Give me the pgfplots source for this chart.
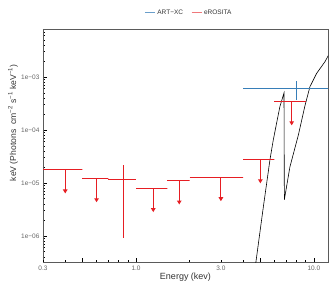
\documentclass[border=0pt]{standalone}
\usepackage{fontspec}
\setmainfont{Liberation Sans}
\usepackage{pgfplots}
\pgfplotsset{compat=1.18}
\usetikzlibrary{arrows.meta}
\definecolor{artblue}{RGB}{55,126,184}
\definecolor{erored}{RGB}{230,30,35}
\definecolor{framegray}{RGB}{90,90,90}
\begin{document}
\begin{tikzpicture}
\useasboundingbox (-43pt,-25pt) rectangle (289pt,262pt);
\begin{axis}[
  scale only axis, width=285pt, height=233pt,
  at={(0pt,0pt)}, anchor=south west,
  xmode=log, ymode=log,
  xmin=0.3, xmax=12, ymin=3.2e-7, ymax=8.05e-3,
  axis line style={framegray, line width=0.5pt},
  xtick={0.5,1,5,10}, xticklabels={,1.0,,10.0},
  extra x ticks={0.3,3}, extra x tick labels={0.3,3.0},
  extra x tick style={major tick length=2pt},
  minor xtick={0.4,0.6,0.7,0.8,0.9,2,4,6,7,8,9},
  ytick={1e-6,1e-5,1e-4,1e-3}, yticklabels={1e−06,1e−05,1e−04,1e−03},
  minor ytick={4e-7,5e-7,6e-7,7e-7,8e-7,9e-7,2e-6,3e-6,4e-6,5e-6,6e-6,7e-6,8e-6,9e-6,2e-5,3e-5,4e-5,5e-5,6e-5,7e-5,8e-5,9e-5,2e-4,3e-4,4e-4,5e-4,6e-4,7e-4,8e-4,9e-4,2e-3,3e-3,4e-3,5e-3,6e-3,7e-3,8e-3},
  xtick pos=bottom, ytick pos=left,
  tick align=inside,
  major tick length=4pt, minor tick length=2pt,
  tick style={black, line width=0.6pt},
  tick label style={font=\fontsize{6.5}{7.5}\selectfont, text=black!60},
  xlabel={Energy (kev)},
  xlabel style={font=\fontsize{9}{10}\selectfont, text=black!80, at={(axis description cs:0.5,-0.066)}, anchor=center},
  ylabel={keV (Photons\ \ cm\textsuperscript{−2} s\textsuperscript{−1} keV\textsuperscript{−1})},
  ylabel style={font=\fontsize{8.6}{10}\selectfont, text=black!80, at={(axis description cs:-0.105,0.597)}, anchor=center},
  legend style={at={(axis description cs:0.512,1.069)}, anchor=center, draw=none, fill=none,
    font=\fontsize{6.5}{8}\selectfont, text=black!80, legend columns=2,
    /tikz/every even column/.append style={column sep=6pt}},
  legend image code/.code={\draw[#1] (0pt,0pt) -- (10pt,0pt);},
]
\addlegendimage{color=artblue!75, line width=1pt}
\addlegendentry{ART−XC}
\addlegendimage{color=erored!60, line width=1pt}
\addlegendentry{eROSITA}

% model curve
\addplot[color=black, line width=0.6pt, mark=none, forget plot] coordinates {
(4.66,2.28e-7) (4.72,3.2e-7) (5.17,3.1e-6) (5.66,2.72e-5) (5.91,6.47e-5) (6.17,1.34e-4) (6.44,2.76e-4) (6.79,4.99e-4)
(6.82,4.8e-6) (7.33,2.0e-5) (8.18,8.05e-5) (8.90,2.84e-4) (9.50,6.56e-4) (10.36,1.17e-3) (11.53,1.94e-3) (12.1,2.6e-3)
};

% ART-XC
\addplot[color=artblue, line width=0.9pt, mark=none, forget plot] coordinates {(4.0,6.2e-4) (12.5,6.2e-4)};
\addplot[color=artblue, line width=0.9pt, mark=none, forget plot] coordinates {(8.0,3.68e-4) (8.0,8.4e-4)};

% eROSITA upper limits: bars and arrows in one path each
\pgfplotsset{ularrow/.style={draw=erored, line width=1pt, mark=none, forget plot, -{Triangle[width=4.5pt,length=4pt]}}}
\addplot[ularrow] coordinates {(0.3,1.76e-5) (0.5,1.76e-5) (0.4,1.76e-5) (0.4,6.3e-6)};
\addplot[ularrow] coordinates {(0.5,1.19e-5) (0.7,1.19e-5) (0.6,1.19e-5) (0.6,4.3e-6)};
\addplot[ularrow] coordinates {(1.0,7.7e-6) (1.5,7.7e-6) (1.25,7.7e-6) (1.25,2.8e-6)};
\addplot[ularrow] coordinates {(1.5,1.09e-5) (2.0,1.09e-5) (1.75,1.09e-5) (1.75,3.9e-6)};
\addplot[ularrow] coordinates {(2.0,1.24e-5) (4.0,1.24e-5) (3.0,1.24e-5) (3.0,4.5e-6)};
\addplot[ularrow] coordinates {(4.0,2.72e-5) (6.0,2.72e-5) (5.0,2.72e-5) (5.0,9.8e-6)};
\addplot[ularrow] coordinates {(6.0,3.4e-4) (9.0,3.4e-4) (7.5,3.4e-4) (7.5,1.22e-4)};
% detection with error bar
\addplot[draw=erored, line width=1pt, mark=none, forget plot] coordinates {(0.7,1.14e-5) (1.0,1.14e-5)};
\addplot[draw=erored, line width=1pt, mark=none, forget plot] coordinates {(0.85,9.1e-7) (0.85,2.2e-5)};
\end{axis}
\end{tikzpicture}
\end{document}
